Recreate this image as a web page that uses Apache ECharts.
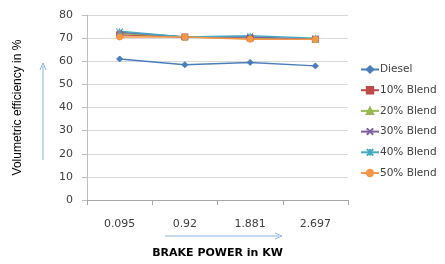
<!DOCTYPE html>
<html>
<head>
<meta charset="utf-8">
<script src="https://cdn.jsdelivr.net/npm/echarts@6/dist/echarts.min.js"></script>
<style>
  html, body { margin: 0; padding: 0; background: #fff; }
  #main { width: 445px; height: 264px; }
</style>
</head>
<body>
<div id="main"></div>
<script>
var categories = ['0.095', '0.92', '1.881', '2.697'];
var diesel = [61, 58.5, 59.5, 58];
var blend10 = [71.5, 70.5, 70, 69.5];
var blend20 = [72, 70.5, 70, 69.5];
var blend30 = [72.5, 70.5, 70.5, 69.5];
var blend40 = [73, 70.5, 71, 70];
var blend50 = [70.5, 70.5, 69.5, 69.5];

var WIDE = '"DejaVu Sans", sans-serif';

var myChart = echarts.init(document.getElementById('main'));

function mkSeries(name, data, color, symbol, size) {
    return {
        name: name,
        type: 'line',
        data: data,
        symbol: symbol,
        symbolSize: size,
        lineStyle: { color: color, width: 1.5 },
        itemStyle: { color: color, borderColor: color, borderWidth: 1 },
        animation: false
    };
}

var option = {
    backgroundColor: '#fff',
    grid: { left: 87, right: 97, top: 15, bottom: 61 },
    legend: {
        orient: 'vertical',
        left: 355,
        top: 59,
        itemWidth: 18,
        itemHeight: 8,
        itemGap: 9.7,
        textStyle: { fontFamily: WIDE, fontSize: 10.5, lineHeight: 11, color: '#404040', padding: [0, 0, 0, -4] }
    },
    xAxis: {
        type: 'category',
        data: categories,
        axisLine: { lineStyle: { color: '#a6a6a6' } },
        axisTick: { show: true, lineStyle: { color: '#a6a6a6' } },
        axisLabel: { fontFamily: WIDE, fontSize: 11, color: '#404040', margin: 19 },
        name: 'BRAKE POWER in KW',
        nameLocation: 'middle',
        nameGap: 48,
        nameTextStyle: { fontFamily: WIDE, fontSize: 11, fontWeight: 'bold', color: '#000' }
    },
    yAxis: {
        type: 'value',
        min: 0,
        max: 80,
        interval: 10,
        axisLine: { show: true, lineStyle: { color: '#bfbfbf' } },
        axisTick: { show: true, length: 5, lineStyle: { color: '#bfbfbf' } },
        splitLine: { lineStyle: { color: '#d9d9d9' } },
        axisLabel: { fontFamily: WIDE, fontSize: 11, color: '#404040', margin: 14 },
        name: 'Volumetric efficiency in %',
        nameLocation: 'middle',
        nameGap: 63,
        nameTextStyle: { fontFamily: '"Liberation Sans", sans-serif', fontSize: 12, color: '#000' }
    },
    graphic: [
        { type: 'line', shape: { x1: 43, y1: 160, x2: 43, y2: 66 }, style: { stroke: '#8db3e2', lineWidth: 1 } },
        { type: 'polyline', shape: { points: [[40, 70], [43, 63], [46, 70]] }, style: { stroke: '#8db3e2', lineWidth: 1, fill: null } },
        { type: 'line', shape: { x1: 165, y1: 236, x2: 279, y2: 236 }, style: { stroke: '#8db3e2', lineWidth: 1 } },
        { type: 'polyline', shape: { points: [[275, 233], [282, 236], [275, 239]] }, style: { stroke: '#8db3e2', lineWidth: 1, fill: null } }
    ],
    series: [
        mkSeries('Diesel', diesel, '#4a7ebb', 'diamond', 6),
        mkSeries('10% Blend', blend10, '#be4b48', 'rect', 6),
        mkSeries('20% Blend', blend20, '#98b954', 'triangle', 6),
        mkSeries('30% Blend', blend30, '#7d60a0', 'path://M0,0L10,10M10,0L0,10', 6),
        mkSeries('40% Blend', blend40, '#46aac5', 'path://M0,0L10,10M10,0L0,10M5,0L5,10', 6),
        mkSeries('50% Blend', blend50, '#f79646', 'circle', 6)
    ]
};

myChart.setOption(option);
</script>
</body>
</html>
